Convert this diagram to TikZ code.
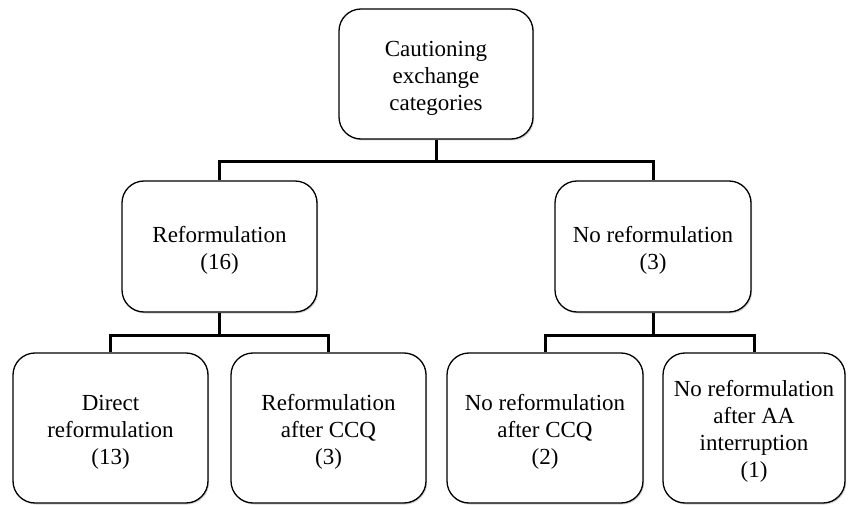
\documentclass[tikz,border=0pt]{standalone}
\usepackage{fontspec}
\setmainfont{Liberation Serif}
\usetikzlibrary{shadows}
\newcommand{\boxtext}[1]{\raisebox{-4pt}[\height][\depth]{\begin{tabular}{@{}c@{}}#1\end{tabular}}}
\begin{document}
\begin{tikzpicture}[x=1pt,y=-1pt,
  box/.style={draw=black, line width=1.3pt, fill=white, rounded corners=22pt,
    align=center, inner sep=2pt,
    font=\fontsize{23}{27}\selectfont,
    drop shadow={opacity=0.35, shadow xshift=1.2pt, shadow yshift=-1.5pt}},
  conn/.style={draw=black, line width=3pt}]
\useasboundingbox (0,0) rectangle (849,505);
\node[box, minimum width=194pt, minimum height=130pt] (top) at (436,74) {\boxtext{Cautioning\\exchange\\categories}};
\node[box, minimum width=195pt, minimum height=131pt] (ref) at (219.5,246.5) {\boxtext{Reformulation\\(16)}};
\node[box, minimum width=196pt, minimum height=131pt] (noref) at (653,246.5) {\boxtext{No reformulation\\(3)}};
\node[box, minimum width=195pt, minimum height=150pt] (direct) at (110.5,428) {\boxtext{Direct\\reformulation\\(13)}};
\node[box, minimum width=195pt, minimum height=150pt] (refccq) at (328.5,428) {\boxtext{Reformulation\\after CCQ\\(3)}};
\node[box, minimum width=196pt, minimum height=150pt] (norefccq) at (545,428) {\boxtext{No reformulation\\after CCQ\\(2)}};
\node[box, minimum width=182pt, minimum height=150pt] (norefaa) at (754,428) {\boxtext{No reformulation\\after AA\\interruption\\(1)}};
\coordinate (bus1) at (436,162);
\coordinate (bus2) at (219.5,335);
\coordinate (bus3) at (653,335);
\draw[conn] (top.south) -- (bus1);
\draw[conn] (ref.north) |- (bus1);
\draw[conn] (noref.north) |- (bus1);
\draw[conn] (ref.south) -- (bus2);
\draw[conn] (direct.north) |- (bus2);
\draw[conn] (refccq.north) |- (bus2);
\draw[conn] (noref.south) -- (bus3);
\draw[conn] (norefccq.north) |- (bus3);
\draw[conn] (norefaa.north) |- (bus3);
\end{tikzpicture}
\end{document}
